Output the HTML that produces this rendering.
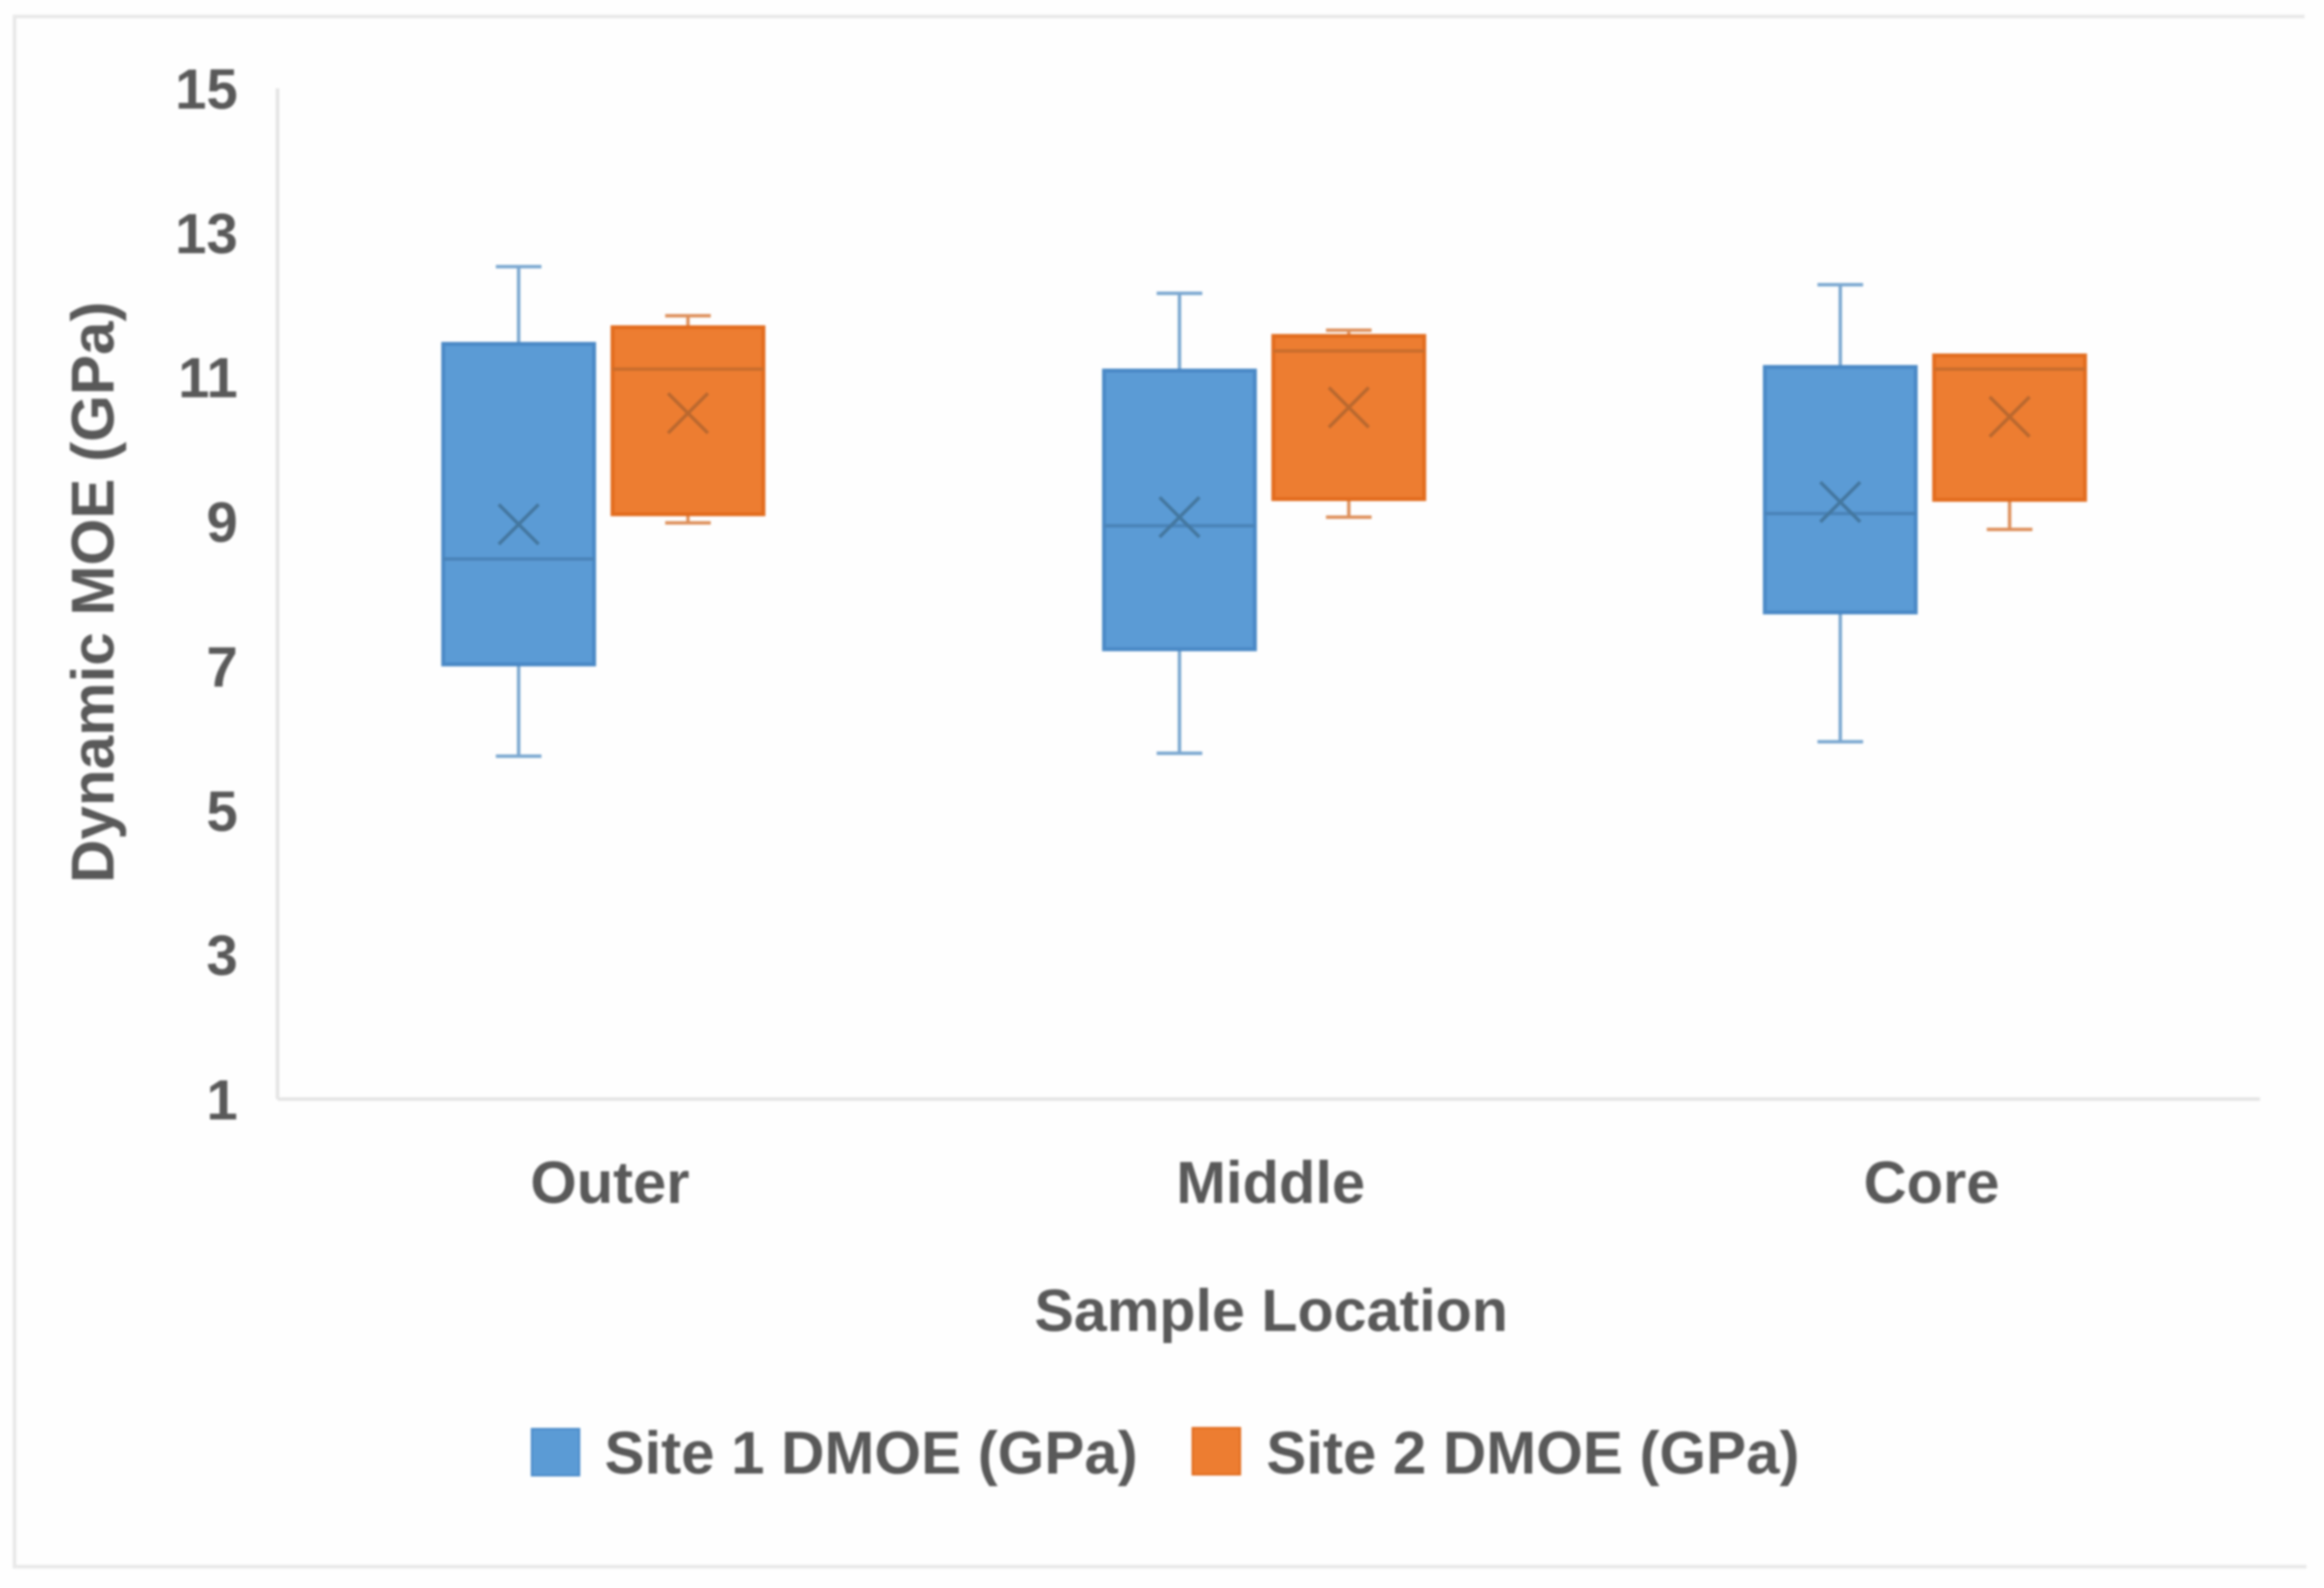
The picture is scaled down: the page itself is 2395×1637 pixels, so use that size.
<!DOCTYPE html>
<html lang="en">
<head>
<meta charset="utf-8">
<title>Dynamic MOE by Sample Location</title>
<style>
  html, body { margin: 0; padding: 0; background: #fefefe; }
  body { width: 2395px; height: 1637px; overflow: hidden; }
  svg { display: block; filter: blur(1.1px); }
  text { font-family: "Liberation Sans", sans-serif; font-weight: bold; fill: #595959; }
</style>
</head>
<body>
<svg id="chart" xmlns="http://www.w3.org/2000/svg" width="2395" height="1637" viewBox="0 0 2395 1637">
  <path d="M2375 17 H15 V1615 H2377" fill="none" stroke="#e8e8e8" stroke-width="3.5"></path>
  <text transform="translate(117 610.5) rotate(-90)" text-anchor="middle" font-size="62">Dynamic MOE (GPa)</text>
  <text x="1310" y="1372" text-anchor="middle" font-size="61">Sample Location</text>
  <g>
    <g>
      <rect x="548" y="1473" width="49" height="48" fill="#5B9BD5" stroke="#4a8bc9" stroke-width="2"></rect>
      <text x="623" y="1519" font-size="61.8">Site 1 DMOE (GPa)</text>
    </g>
    <g>
      <rect x="1229" y="1472" width="49" height="48" fill="#ED7D31" stroke="#e06a1c" stroke-width="2"></rect>
      <text x="1305" y="1519" font-size="61.8">Site 2 DMOE (GPa)</text>
    </g>
  </g>
  <g id="y-axis"></g>
  <g id="x-axis"></g>
  <g id="series"></g>
</svg>
<script>
// Chart data
const categories = ['Outer', 'Middle', 'Core'];
const yTicks = [1, 3, 5, 7, 9, 11, 13, 15];

const site1WhiskerHigh = [12.53, 12.16, 12.28];
const site1Q3 = [11.46, 11.09, 11.14];
const site1Median = [8.48, 8.94, 9.11];
const site1Mean = [8.96, 9.06, 9.27];
const site1Q1 = [7.02, 7.23, 7.74];
const site1WhiskerLow = [5.75, 5.79, 5.95];

const site2WhiskerHigh = [11.85, 11.65, 11.30];
const site2Q3 = [11.69, 11.57, 11.30];
const site2Median = [11.11, 11.36, 11.11];
const site2Mean = [10.50, 10.58, 10.45];
const site2Q1 = [9.10, 9.31, 9.30];
const site2WhiskerLow = [8.98, 9.06, 8.89];

// Plot geometry and axis functions
const plotLeft = 286, plotRight = 2329, plotTop = 91, plotBottom = 1133;
const yMin = 1, yMax = 15;
const boxWidth = 155.5, capWidth = 47, markSize = 20.5;
function yScale(v) { return plotBottom - (v - yMin) / (yMax - yMin) * (plotBottom - plotTop); }
function xBand(i) { return plotLeft + (plotRight - plotLeft) * (i + 0.5) / categories.length; }

const NS = 'http://www.w3.org/2000/svg';
function make(parent, tag, attrs) {
  const el = document.createElementNS(NS, tag);
  for (const k in attrs) el.setAttribute(k, attrs[k]);
  parent.appendChild(el);
  return el;
}

// Axes
const yAxis = document.getElementById('y-axis');
const xAxis = document.getElementById('x-axis');
const yLine = make(yAxis, 'line', { x1: plotLeft, x2: plotLeft, y1: plotTop, y2: plotBottom, stroke: '#e4e4e4', 'stroke-width': 3.5 });


const xLine = make(xAxis, 'line', { x1: plotLeft, x2: plotRight, y1: plotBottom, y2: plotBottom, stroke: '#e4e4e4', 'stroke-width': 3.5 });



yTicks.forEach(function (t) {
  const label = make(yAxis, 'text', { x: 245, y: yScale(t) + 21, 'text-anchor': 'end', 'font-size': 58 });
  label.textContent = String(t);
  
  
});
categories.forEach(function (c, i) {
  const label = make(xAxis, 'text', { x: xBand(i) + 2, y: 1240, 'text-anchor': 'middle', 'font-size': 61.5 });
  label.textContent = c;
  
  
});

// Series
const seriesRoot = document.getElementById('series');
function drawBoxes(key, offset, hi, q3, med, mean, q1, lo, fill, edge, medColor, whiskerColor, markColor) {
  categories.forEach(function (c, i) {
    const cx = xBand(i) + offset;
    const g = make(seriesRoot, 'g', {});
    
    

    const whiskerUp = make(g, 'line', { x1: cx, x2: cx, y1: yScale(hi[i]), y2: yScale(q3[i]), stroke: whiskerColor, 'stroke-width': 3.5 });
    
    
    const capUp = make(g, 'line', { x1: cx - capWidth / 2, x2: cx + capWidth / 2, y1: yScale(hi[i]), y2: yScale(hi[i]), stroke: whiskerColor, 'stroke-width': 3.5 });
    
    
    const whiskerDown = make(g, 'line', { x1: cx, x2: cx, y1: yScale(q1[i]), y2: yScale(lo[i]), stroke: whiskerColor, 'stroke-width': 3.5 });
    
    
    const capDown = make(g, 'line', { x1: cx - capWidth / 2, x2: cx + capWidth / 2, y1: yScale(lo[i]), y2: yScale(lo[i]), stroke: whiskerColor, 'stroke-width': 3.5 });
    
    

    const box = make(g, 'rect', { x: cx - boxWidth / 2, y: yScale(q3[i]), width: boxWidth, height: yScale(q1[i]) - yScale(q3[i]), fill: fill, stroke: edge, 'stroke-width': 4 });
    
    
    const medianLine = make(g, 'line', { x1: cx - boxWidth / 2, x2: cx + boxWidth / 2, y1: yScale(med[i]), y2: yScale(med[i]), stroke: medColor, 'stroke-width': 3.5 });
    
    

    const my = yScale(mean[i]);
    const markA = make(g, 'line', { x1: cx - markSize, x2: cx + markSize, y1: my - markSize, y2: my + markSize, stroke: markColor, 'stroke-width': 3.5 });
    
    
    const markB = make(g, 'line', { x1: cx - markSize, x2: cx + markSize, y1: my + markSize, y2: my - markSize, stroke: markColor, 'stroke-width': 3.5 });
    
    
  });
}
drawBoxes('site-1', -92, site1WhiskerHigh, site1Q3, site1Median, site1Mean, site1Q1, site1WhiskerLow,
  '#5B9BD5', '#4a89c6', '#4a83b8', '#7aa7d0', '#44779f');
drawBoxes('site-2', 82.5, site2WhiskerHigh, site2Q3, site2Median, site2Mean, site2Q1, site2WhiskerLow,
  '#ED7D31', '#e26c1e', '#c96d2c', '#dd8f5a', '#b9682f');
</script>
</body>
</html>
